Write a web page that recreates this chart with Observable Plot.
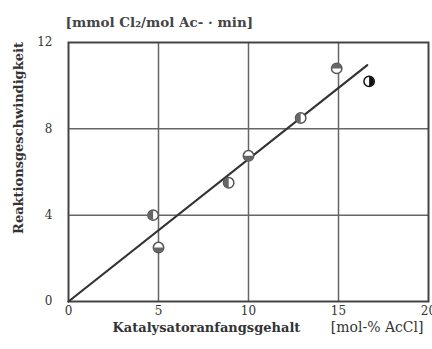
<!DOCTYPE html>
<html>
<head>
<meta charset="utf-8">
<script src="https://cdn.jsdelivr.net/npm/d3@7"></script>
<script src="https://cdn.jsdelivr.net/npm/@observablehq/plot@0.6"></script>
<style>
  html, body { margin: 0; padding: 0; background: #fff; }
  #chart svg { display: block; }
</style>
</head>
<body>
<div id="chart"></div>
<script>
// Measured rates vs. initial catalyst content
const catalyst = [4.7, 5.0, 8.9, 10.0, 12.9, 14.9, 16.7];
const rate     = [4.0, 2.5, 5.5, 6.75, 8.5, 10.8, 10.2];
// which half of each marker is shaded
const shade    = ["left", "bottom", "left", "bottom", "left", "top", "right"];
// last point drawn solid dark
const solid    = [false, false, false, false, false, false, true];

// Fitted straight line through the origin
const fitX = [0, 16.6];
const fitY = [0, 10.95];

const xTicks = [0, 5, 10, 15, 20];
const yTicks = [0, 4, 8, 12];
const xGrid = [5, 10, 15];
const yGrid = [4, 8];

const points = catalyst.map((x, i) => ({x, y: rate[i], half: shade[i], solid: solid[i]}));
const fit = fitX.map((x, i) => ({x, y: fitY[i]}));

// Half-disc symbols (angles in screen space, y pointing down)
function halfSymbol(a0, a1, ccw) {
  return {
    draw(ctx, size) {
      const r = Math.sqrt(size / Math.PI);
      ctx.moveTo(r * Math.cos(a0), r * Math.sin(a0));
      ctx.arc(0, 0, r, a0, a1, ccw);
      ctx.closePath();
    }
  };
}
const halves = {
  left: halfSymbol(-Math.PI / 2, Math.PI / 2, true),
  right: halfSymbol(-Math.PI / 2, Math.PI / 2, false),
  top: halfSymbol(0, Math.PI, true),
  bottom: halfSymbol(0, Math.PI, false)
};

const serif = "DejaVu Serif, Liberation Serif, serif";
const ink = "#333";

const halfMarks = Object.keys(halves).map(k =>
  Plot.dot(points.filter(d => d.half === k), {
    x: "x", y: "y", r: 4.8, symbol: halves[k],
    fill: d => d.solid ? "#111" : "#666", stroke: "none"
  })
);

const chart = Plot.plot({
  width: 432,
  height: 349,
  marginLeft: 68,
  marginRight: 4,
  marginTop: 42,
  marginBottom: 48,
  style: {fontFamily: serif, color: ink, background: "#fff"},
  x: {domain: [0, 20]},
  y: {domain: [0, 12]},
  marks: [
    Plot.ruleX(xGrid, {stroke: "#666", strokeWidth: 1.5}),
    Plot.ruleY(yGrid, {stroke: "#666", strokeWidth: 1.5}),
    Plot.frame({stroke: "#444", strokeWidth: 2}),
    Plot.line(fit, {x: "x", y: "y", stroke: "#333", strokeWidth: 2.2}),
    Plot.dot(points, {x: "x", y: "y", r: 5.2, fill: "#fff", stroke: d => d.solid ? "#111" : "#555", strokeWidth: 1.5}),
    ...halfMarks,
    Plot.axisX(xTicks, {tickSize: 0, tickPadding: 5, fontSize: 12, label: null, fill: ink}),
    Plot.axisY(yTicks, {tickSize: 0, tickPadding: 16, fontSize: 12, label: null, fill: ink}),
    Plot.text(["Reaktionsgeschwindigkeit"], {
      frameAnchor: "left", textAnchor: "middle", rotate: -90, dx: -50, dy: -34,
      fontSize: 13, fontWeight: "bold", fill: ink, style: {letterSpacing: "0.5px"}
    }),
    Plot.text(["Katalysatoranfangsgehalt"], {
      frameAnchor: "bottom-left", textAnchor: "start", dx: 44, dy: 30,
      fontSize: 13, fontWeight: "bold", fill: ink
    }),
    Plot.text(["[mol-% AcCl]"], {
      frameAnchor: "bottom-right", textAnchor: "end", dx: -5, dy: 30,
      fontSize: 14, fill: ink, style: {letterSpacing: "1px"}
    }),
    Plot.text(["[mmol Cl\u2082/mol Ac- \u00b7 min]"], {
      frameAnchor: "top-left", textAnchor: "start", dx: -3, dy: -25,
      fontSize: 13.5, fontWeight: "bold", fill: "#444", style: {letterSpacing: "0.3px"}
    })
  ]
});

document.getElementById("chart").appendChild(chart);
</script>
</body>
</html>
